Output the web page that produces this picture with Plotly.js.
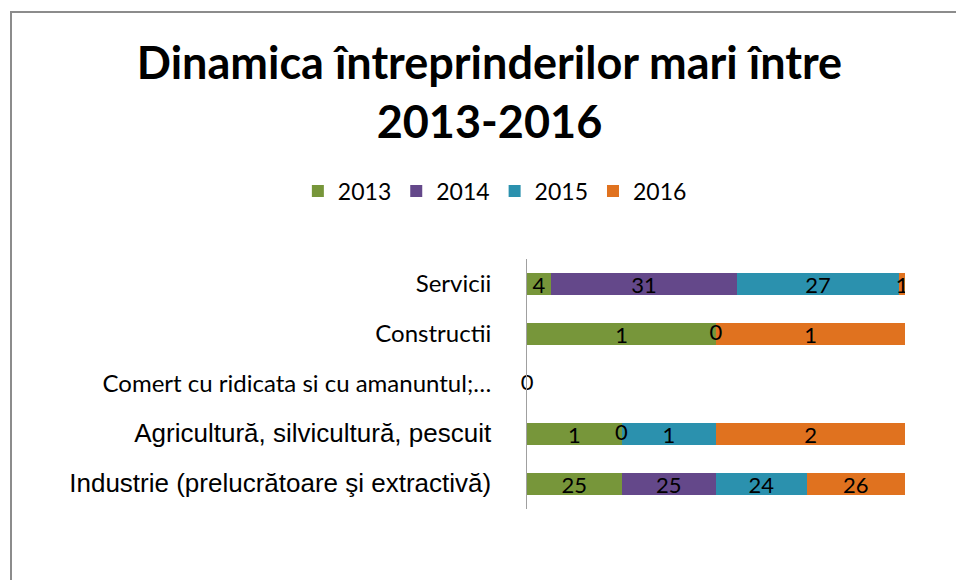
<!DOCTYPE html>
<html>
<head>
<meta charset="utf-8">
<script src="https://cdn.plot.ly/plotly-3.0.1.min.js"></script>
<style>
html,body{margin:0;padding:0;background:#fff;}
#frame{position:absolute;left:10px;top:11px;width:960px;height:580px;border-left:2px solid #8c8c8c;border-top:2px solid #8c8c8c;}
#chart{position:absolute;left:0;top:0;width:956px;height:580px;}
</style>
</head>
<body>
<div id="frame"></div>
<div id="chart"></div>
<script>
const categories = [
  "Industrie (prelucrătoare şi extractivă)",
  "Agricultură, silvicultură, pescuit",
  "Comert cu ridicata si cu amanuntul;...",
  "Constructii",
  "Servicii"
];
const tickLabels = [
  "<span style=\"font-family:Liberation Sans;font-size:26px\">Industrie (prelucrătoare şi extractivă)</span>",
  "<span style=\"font-family:Liberation Sans;font-size:26px\">Agricultură, silvicultură, pescuit</span>",
  "Comert cu ridicata si cu amanuntul;…",
  "Constructii",
  "Servicii"
];
const years = ["2013", "2014", "2015", "2016"];
const v2013 = [25, 1, 0, 1, 4];
const v2014 = [25, 0, 0, 0, 31];
const v2015 = [24, 1, 0, 0, 27];
const v2016 = [26, 2, 0, 1, 1];
const colors = ["#77963a", "#64488a", "#2b91ae", "#e0721f"];

const series = [v2013, v2014, v2015, v2016];
const traces = series.map((vals, i) => ({
  type: "bar",
  orientation: "h",
  name: years[i],
  y: categories,
  x: vals,
  marker: {color: colors[i], line: {width: 0}},
  text: vals.map(String),
  textposition: "inside",
  insidetextanchor: "middle",
  textangle: 0,
  textfont: {family: "Lato, sans-serif", size: 22, color: "#000"},
  constraintext: "none",
  hoverinfo: "name+x"
}));

// labels for zero-valued segments (not drawn by bars of zero width)
const zx = [], zy = [], seen = new Set();
categories.forEach((c, j) => {
  const total = series.reduce((s, arr) => s + arr[j], 0);
  let cum = 0;
  series.forEach(arr => {
    const pct = total > 0 ? arr[j] / total * 100 : 0;
    if (arr[j] === 0) {
      const key = j + ":" + cum.toFixed(3);
      if (!seen.has(key)) { seen.add(key); zx.push(cum); zy.push(c); }
    }
    cum += pct;
  });
});
traces.push({
  type: "scatter", mode: "text", x: zx, y: zy,
  text: zx.map(() => "0"), textposition: "middle center",
  textfont: {family: "Lato, sans-serif", size: 22, color: "#000"},
  showlegend: false, hoverinfo: "skip", cliponaxis: false
});

const layout = {
  width: 956, height: 580,
  paper_bgcolor: "rgba(0,0,0,0)",
  plot_bgcolor: "rgba(0,0,0,0)",
  barmode: "stack",
  barnorm: "percent",
  bargap: 0.55,
  margin: {l: 527, r: 51, t: 259, b: 71, autoexpand: false},
  title: {
    text: "<b>Dinamica întreprinderilor mari între<br>2013-2016</b>",
    font: {family: "Lato, sans-serif", size: 45, color: "#000"},
    x: 0.512, xanchor: "center", y: 0.863, yanchor: "middle"
  },
  showlegend: true,
  legend: {
    orientation: "h", x: -0.085, xanchor: "center",
    y: 1.272, yanchor: "middle",
    font: {family: "Lato, sans-serif", size: 23, color: "#000"},
    traceorder: "normal"
  },
  xaxis: {
    range: [0, 100], showgrid: false, zeroline: false, showticklabels: false,
    showline: false, fixedrange: true
  },
  yaxis: {
    type: "category", categoryorder: "array", categoryarray: categories,
    tickvals: categories, ticktext: tickLabels,
    tickfont: {family: "Lato, sans-serif", size: 24, color: "#000"},
    showgrid: false, zeroline: false, showline: true, linecolor: "#a0a0a0", linewidth: 1,
    ticks: "", ticklabelstandoff: 30, fixedrange: true
  }
};

Plotly.newPlot("chart", traces, layout, {displayModeBar: false, staticPlot: true});
</script>
</body>
</html>
